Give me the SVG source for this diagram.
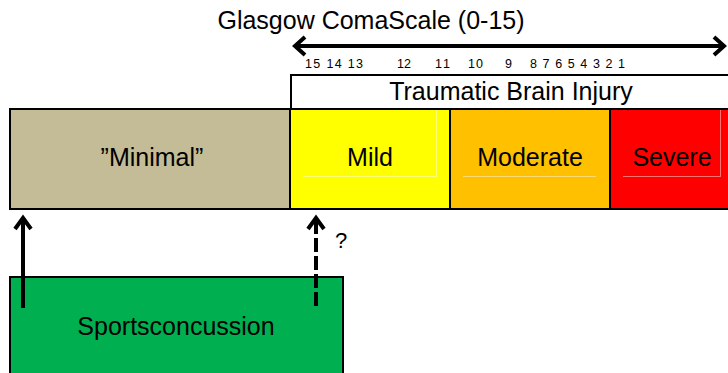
<svg xmlns="http://www.w3.org/2000/svg" width="728" height="373" viewBox="0 0 728 373">
<style>
text{font-family:"Liberation Sans",Arial,sans-serif;fill:#000}
.lbl{font-size:25px;text-anchor:middle}
.num{font-size:12.5px}
.box{stroke:#000;stroke-width:2}
.hl{fill:none;stroke:#ffffff;stroke-opacity:0.45;stroke-width:1}
.arr{fill:none;stroke:#000;stroke-width:4;stroke-linecap:butt}
.head{fill:none;stroke:#000;stroke-width:4;stroke-linejoin:miter}
</style>
<rect width="728" height="373" fill="#fff"/>
<text class="lbl" x="371" y="29">Glasgow ComaScale (0-15)</text>
<g id="scale-numbers" class="num">
<text x="305" y="68" textLength="58">15 14 13</text>
<text x="397" y="68" textLength="14">12</text>
<text x="435" y="68" textLength="15">11</text>
<text x="468" y="68" textLength="15">10</text>
<text x="505" y="68">9</text>
<text x="530" y="68" textLength="95">8 7 6 5 4 3 2 1</text>
</g>
<g id="tbi">
<rect class="box" x="291" y="75" width="440" height="34" fill="#fff"/>
<text class="lbl" x="511" y="100">Traumatic Brain Injury</text>
</g>
<g id="minimal">
<rect class="box" x="10" y="109" width="280" height="100" fill="#C4BC96"/>
<text class="lbl" x="152" y="166">”Minimal”</text>
</g>
<g id="mild">
<rect class="box" x="290" y="109" width="160" height="100" fill="#FFFF00"/>
<path class="hl" d="M303 176.5H436.5V110"/>
<text class="lbl" x="370" y="166">Mild</text>
</g>
<g id="moderate">
<rect class="box" x="450" y="109" width="160" height="100" fill="#FFC000"/>
<path class="hl" d="M463 176.5H596"/>
<text class="lbl" x="530" y="166">Moderate</text>
</g>
<g id="severe">
<rect x="610" y="109" width="120" height="100" fill="#FF0000" stroke="#000" stroke-width="2"/>
<line x1="610" y1="110" x2="610" y2="208" stroke="#000" stroke-width="1"/>
<path class="hl" d="M623 176.5H720.5V110"/>
<text class="lbl" x="672" y="166">Severe</text>
</g>
<g id="sportsconcussion">
<rect class="box" x="10" y="277" width="333" height="110" fill="#00B050"/>
<text class="lbl" x="176" y="335">Sportsconcussion</text>
</g>
<g id="connectors">
<line class="arr" x1="296" y1="46" x2="724" y2="46"/>
<polyline class="head" points="305,37 295,46 305,55"/>
<polyline class="head" points="714,37 724,46 714,55"/>
<line class="arr" x1="23" y1="308" x2="23" y2="218"/>
<polyline class="head" points="15,229 23,218 31,229"/>
<line class="arr" x1="316" y1="306" x2="316" y2="218" stroke-dasharray="14 4" stroke-dashoffset="0"/>
<polyline class="head" points="308,229 316,218 324,229"/>
<text x="335" y="248" font-size="22">?</text>
</g>
</svg>
